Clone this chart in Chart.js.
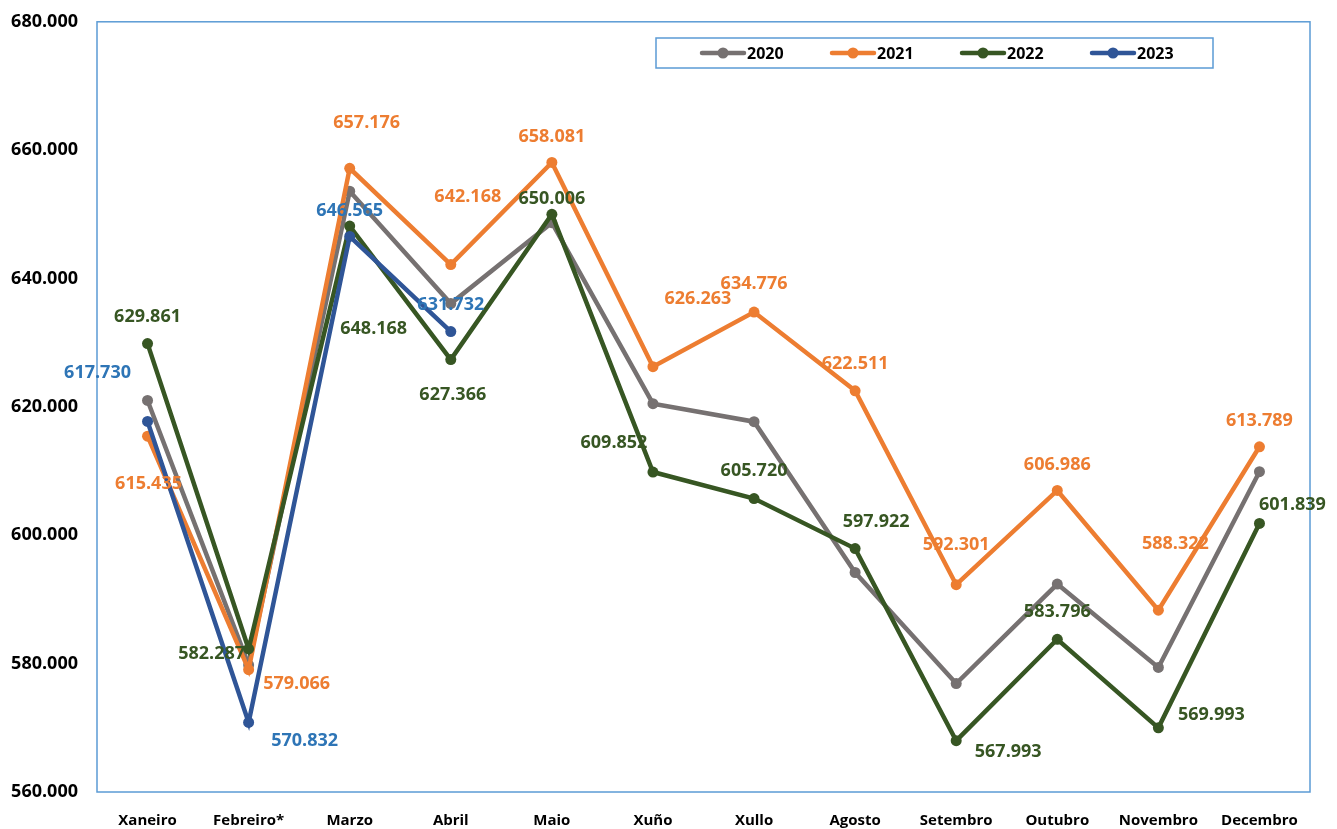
<!DOCTYPE html>
<html>
<head>
<meta charset="utf-8">
<script src="https://cdn.jsdelivr.net/npm/chart.js@4.4.1/dist/chart.umd.min.js"></script>
<style>
    html, body { margin: 0; padding: 0; background: #ffffff; }
    #wrap { position: relative; width: 1337px; height: 829px; }
</style>
</head>
<body>
<div id="wrap"><canvas id="monthlyChart"></canvas></div>
<script>
// Months and yearly series (thousands)
const months = ['Xaneiro', 'Febreiro*', 'Marzo', 'Abril', 'Maio', 'Xuño', 'Xullo', 'Agosto', 'Setembro', 'Outubro', 'Novembro', 'Decembro'];
const years = ['2020', '2021', '2022', '2023'];
const values2020 = [621.0, 579.8, 653.6, 636.1, 648.7, 620.5, 617.7, 594.2, 576.9, 592.4, 579.4, 609.9];
const values2021 = [615.435, 579.066, 657.176, 642.168, 658.081, 626.263, 634.776, 622.511, 592.301, 606.986, 588.322, 613.789];
const values2022 = [629.861, 582.287, 648.168, 627.366, 650.006, 609.852, 605.720, 597.922, 567.993, 583.796, 569.993, 601.839];
const values2023 = [617.730, 570.832, 646.565, 631.732];
const yTicks = [560, 580, 600, 620, 640, 660, 680];

// Label placement (pixel offsets from each point), kept apart from the data
const labelOffsets2021 = [[1, 48], [48, 14], [17, -45], [17, -68], [0, -26], [45, -68], [0, -28], [0, -27], [0, -40], [0, -26], [17, -66], [0, -26]];
const labelOffsets2022 = [[0, -27], [-37, 5], [24, 103], [2, 35], [0, -15], [-39, -29], [0, -28], [21, -27], [52, 11], [0, -27], [53, -13], [33, -19]];
const labelOffsets2023 = [[-50, -49], [56, 18], [0, -26], [0, -27]];

const FONT = "'Open Sans', 'DejaVu Sans', sans-serif";
const FRAME = '#5B9BD5';

function fmt(v) {
    return v.toFixed(3);
}

// Frame round the plot area
const framePlugin = {
    id: 'frame',
    beforeDatasetsDraw(chart) {
        const a = chart.chartArea;
        const ctx = chart.ctx;
        ctx.save();
        ctx.strokeStyle = FRAME;
        ctx.lineWidth = 1.5;
        ctx.strokeRect(a.left, a.top, a.right - a.left, a.bottom - a.top);
        ctx.restore();
    }
};

// Value labels with per-point offsets
const labelPlugin = {
    id: 'valueLabels',
    afterDatasetsDraw(chart) {
        const ctx = chart.ctx;
        ctx.save();
        ctx.font = 'bold 18px ' + FONT;
        ctx.textAlign = 'center';
        ctx.textBaseline = 'middle';
        chart.data.datasets.forEach((ds, i) => {
            if (!ds.labelOffsets) return;
            const meta = chart.getDatasetMeta(i);
            ctx.fillStyle = ds.labelColor;
            meta.data.forEach((pt, j) => {
                const off = ds.labelOffsets[j];
                if (!off || ds.data[j] == null) return;
                ctx.fillText(fmt(ds.data[j]), pt.x + off[0], pt.y + off[1]);
            });
        });
        ctx.restore();
    }
};

// Boxed legend inside the plot
const legendPlugin = {
    id: 'boxLegend',
    afterDraw(chart) {
        const ctx = chart.ctx;
        const boxX = 656, boxY = 38, boxW = 557, boxH = 30;
        ctx.save();
        ctx.fillStyle = '#ffffff';
        ctx.fillRect(boxX, boxY, boxW, boxH);
        ctx.strokeStyle = FRAME;
        ctx.lineWidth = 1.5;
        ctx.strokeRect(boxX, boxY, boxW, boxH);
        ctx.font = 'bold 16px ' + FONT;
        ctx.textBaseline = 'middle';
        ctx.textAlign = 'left';
        const cy = boxY + boxH / 2;
        chart.data.datasets.forEach((ds, i) => {
            const x0 = 702 + i * 130;
            ctx.strokeStyle = ds.borderColor;
            ctx.lineWidth = 4.5;
            ctx.lineCap = 'round';
            ctx.beginPath();
            ctx.moveTo(x0, cy);
            ctx.lineTo(x0 + 42, cy);
            ctx.stroke();
            ctx.fillStyle = ds.borderColor;
            ctx.beginPath();
            ctx.arc(x0 + 21, cy, 5.5, 0, Math.PI * 2);
            ctx.fill();
            ctx.fillStyle = '#000000';
            ctx.fillText(ds.label, x0 + 45, cy + 1);
        });
        ctx.restore();
    }
};

function lineSet(label, data, color, order, labelColor, offsets) {
    return {
        label: label,
        data: data,
        borderColor: color,
        backgroundColor: color,
        pointBackgroundColor: color,
        pointBorderColor: color,
        pointBorderWidth: 0,
        borderWidth: 4.5,
        pointRadius: 5.5,
        pointHoverRadius: 5.5,
        tension: 0,
        fill: false,
        order: order,
        labelColor: labelColor,
        labelOffsets: offsets
    };
}

document.addEventListener('DOMContentLoaded', function() {
    const ctx = document.getElementById('monthlyChart').getContext('2d');
    new Chart(ctx, {
        type: 'line',
        data: {
            labels: months,
            datasets: [
                lineSet(years[0], values2020, '#767171', 3, null, null),
                lineSet(years[1], values2021, '#ED7D31', 2, '#ED7D31', labelOffsets2021),
                lineSet(years[2], values2022, '#375623', 1, '#375623', labelOffsets2022),
                lineSet(years[3], values2023, '#2F5597', 0, '#2E75B6', labelOffsets2023)
            ]
        },
        options: {
            responsive: true,
            maintainAspectRatio: false,
            animation: false,
            layout: {
                padding: { top: 6, right: 27, left: 0, bottom: 0 }
            },
            plugins: {
                legend: { display: false },
                tooltip: { enabled: false }
            },
            scales: {
                x: {
                    offset: true,
                    grid: { display: false },
                    border: { display: false },
                    ticks: {
                        color: '#000000',
                        padding: 12,
                        maxRotation: 0,
                        autoSkip: false,
                        font: { family: FONT, size: 15, weight: 'bold' }
                    },
                    afterFit(scale) { scale.height = 37; }
                },
                y: {
                    min: yTicks[0],
                    max: yTicks[yTicks.length - 1],
                    grid: { display: false },
                    border: { display: false },
                    afterBuildTicks(scale) {
                        scale.ticks = yTicks.map(v => ({ value: v }));
                    },
                    ticks: {
                        color: '#000000',
                        padding: 11,
                        font: { family: FONT, size: 18, weight: 'bold' },
                        callback: v => fmt(v)
                    },
                    afterFit(scale) { scale.width = 97; }
                }
            }
        },
        plugins: [framePlugin, labelPlugin, legendPlugin]
    });
});
</script>
</body>
</html>
